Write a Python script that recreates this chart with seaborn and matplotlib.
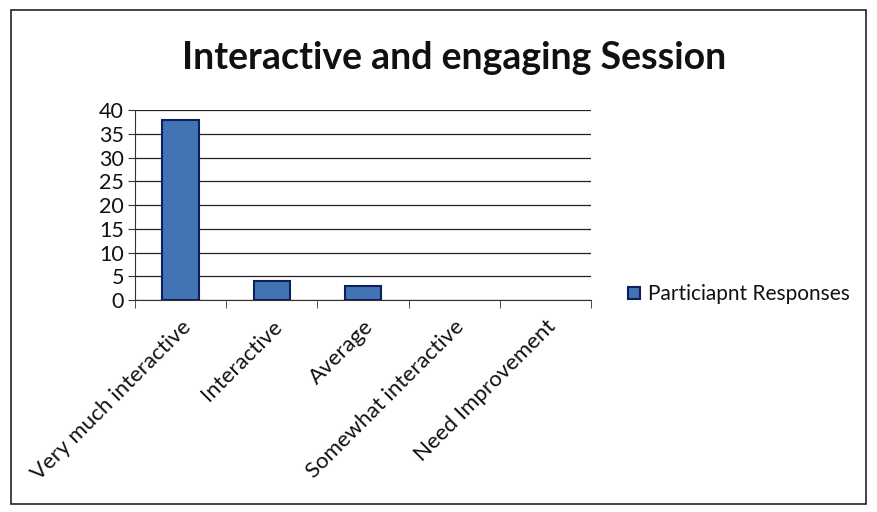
import numpy as np
import pandas as pd
import seaborn as sns
import matplotlib
matplotlib.use('Agg')
import matplotlib.pyplot as plt
from matplotlib.patches import Rectangle

categories = ["Very much interactive", "Interactive", "Average", "Somewhat interactive", "Need Improvement"]
responses = [38, 4, 3, 0, 0]
series_name = "Particiapnt Responses"

df = pd.DataFrame({"Category": categories, "Responses": responses})

sns.set_style("white")
plt.rcParams['font.family'] = ['Lato', 'DejaVu Sans']

fig = plt.figure(figsize=(8.77, 5.12), dpi=100)
ax = fig.add_axes([0.154, 0.414, 0.52, 0.371])

sns.barplot(data=df, x="Category", y="Responses", color="#2f72c8", width=0.4,
            edgecolor="#0d1f5c", linewidth=1.5, ax=ax, label=series_name)

# zero-height bars should not leave an outline
for p in ax.patches:
    if p.get_height() == 0:
        p.set_linewidth(0)

ax.set_ylim(0, 40)
ax.set_yticks(np.arange(0, 41, 5))
ax.set_xlim(-0.5, len(categories) - 0.5)
ax.yaxis.grid(True, color="#222222", linewidth=0.9)
ax.set_axisbelow(True)
for s in ["top", "right"]:
    ax.spines[s].set_visible(False)
ax.spines["left"].set_color("#333333")
ax.spines["bottom"].set_color("#333333")
ax.tick_params(axis="y", labelsize=15.5, length=5, direction="out", left=True, color="#333333",
               labelcolor="#111111", pad=3)
ax.set_xticks(np.arange(len(categories)))
ax.set_xticklabels(categories, rotation=45, ha="right", rotation_mode="anchor", fontsize=16,
                   color="#111111")
ax.tick_params(axis="x", length=0, pad=12)
# category boundary ticks
ax.set_xticks(np.arange(-0.5, len(categories)), minor=True)
ax.tick_params(axis="x", which="minor", length=6, direction="out", bottom=True, color="#333333")
ax.set_xlabel("")
ax.set_ylabel("")

fig.suptitle("Interactive and engaging Session", x=0.518, y=0.92, fontsize=27, fontweight="bold",
             color="#111111")

leg = ax.legend(loc="center left", bbox_to_anchor=(1.04, 0.03), frameon=False, fontsize=15,
                handlelength=0.55, handleheight=0.55, handletextpad=0.4)
for t in leg.get_texts():
    t.set_color("#111111")

fig.patches.append(Rectangle((0.012, 0.015), 0.976, 0.965, transform=fig.transFigure,
                             fill=False, edgecolor="#222222", linewidth=1.2))

fig.savefig("out.png", dpi=100)
